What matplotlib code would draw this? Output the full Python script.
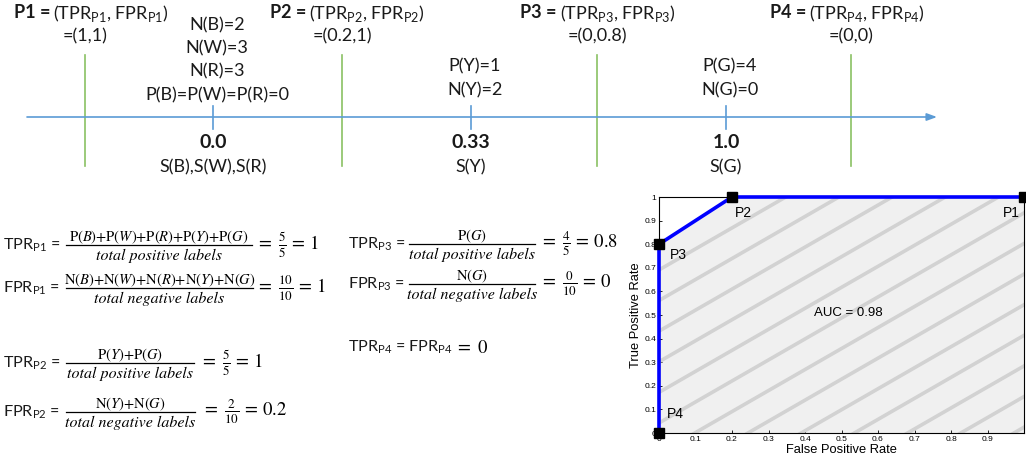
import numpy as np
import matplotlib
matplotlib.use('Agg')
import matplotlib.pyplot as plt
from matplotlib.patches import Polygon

plt.rcParams['font.family'] = 'Lato'
plt.rcParams['mathtext.fontset'] = 'custom'
plt.rcParams['mathtext.rm'] = 'Lato'
plt.rcParams['mathtext.bf'] = 'Lato:bold'

# thresholds / points on the score line
point_names = ['P1', 'P2', 'P3', 'P4']
point_values = ['=(1,1)', '=(0.2,1)', '=(0,0.8)', '=(0,0)']
scores = ['0.0', '0.33', '1.0']
score_groups = ['S(B),S(W),S(R)', 'S(Y)', 'S(G)']
score_counts = [['N(B)=2', 'N(W)=3', 'N(R)=3', 'P(B)=P(W)=P(R)=0'],
                ['P(Y)=1', 'N(Y)=2'],
                ['P(G)=4', 'N(G)=0']]

# the rate formulas
formula_labels = [r'TPR$_{\mathrm{P1}}$ =', r'FPR$_{\mathrm{P1}}$ =', r'TPR$_{\mathrm{P2}}$ =',
                  r'FPR$_{\mathrm{P2}}$ =', r'TPR$_{\mathrm{P3}}$ =', r'FPR$_{\mathrm{P3}}$ =']
formula_nums = ['P($B$)+P($W$)+P($R$)+P($Y$)+P($G$)',
                'N($B$)+N($W$)+N($R$)+N($Y$)+N($G$)',
                'P($Y$)+P($G$)',
                'N($Y$)+N($G$)',
                'P($G$)',
                'N($G$)']
formula_dens = ['total positive labels', 'total negative labels'] * 3
formula_rhs = [r'$=\;\frac{5}{5}\,=\,1$', r'$=\;\frac{10}{10}\,=\,1$', r'$=\;\frac{5}{5}\,=\,1$',
               r'$=\;\frac{2}{10}\,=\,0.2$', r'$=\;\frac{4}{5}\,=\,0.8$', r'$=\;\frac{0}{10}\,=\,0$']

# ROC curve
roc_fpr = [1, 0.2, 0, 0]
roc_tpr = [1, 1, 0.8, 0]
auc = 0.98

# layout (pixels)
threshold_x = [85, 342, 597, 851]
header_split = [50, 306, 557, 806]
score_x = [213, 471, 726]
block_bottom = [95, 90, 90]
formula_pos = [(3, 245, 66, 252, 256), (3, 288, 66, 253, 256),
               (3, 363, 66, 194, 200), (3, 412, 66, 195, 202),
               (348, 244, 409, 535, 540), (348, 284, 409, 535, 540)]

blue = '#5b9bd5'
green = '#8ac163'
txt = '#1a1a1a'

fig = plt.figure(figsize=(10.26, 4.61), dpi=100)
ax = fig.add_axes([0, 0, 1, 1])
ax.set_xlim(0, 1026)
ax.set_ylim(461, 0)
ax.axis('off')

# score axis
ax.annotate('', xy=(937, 117), xytext=(27, 117),
            arrowprops=dict(arrowstyle='-|>,head_length=0.6,head_width=0.22',
                            color=blue, lw=1.2, shrinkA=0, shrinkB=0))
for x in threshold_x:
    ax.plot([x, x], [55, 166], color=green, lw=1.2)
for x in score_x:
    ax.plot([x, x], [106, 129], color=blue, lw=1.2)

for name, val, x, xs in zip(point_names, point_values, threshold_x, header_split):
    ax.text(xs, 13, f'{name} =', ha='right', va='center', fontsize=13, fontweight='bold', color=txt)
    ax.text(xs + 3, 13, rf'(TPR$_{{\mathrm{{{name}}}}}$, FPR$_{{\mathrm{{{name}}}}}$)',
            ha='left', va='center', fontsize=13, color=txt, math_fontfamily='custom')
    ax.text(x, 36, val, ha='center', va='center', fontsize=13, color=txt)

for lines, x, yb in zip(score_counts, score_x, block_bottom):
    n = len(lines)
    for j, s in enumerate(lines):
        ax.text(x + 4, yb - (n - 1 - j) * 23.3, s, ha='center', va='center', fontsize=13, color=txt)

for s, g, x in zip(scores, score_groups, score_x):
    ax.text(x, 142, s, ha='center', va='center', fontsize=14, fontweight='bold', color=txt)
    ax.text(x, 167, g, ha='center', va='center', fontsize=13, color=txt)

# formulas
for lab, num, den, rhs, (xl, yb, x0, x1, xr) in zip(formula_labels, formula_nums, formula_dens,
                                                    formula_rhs, formula_pos):
    ax.text(xl, yb, lab, ha='left', va='center', fontsize=11.6, color=txt, math_fontfamily='custom')
    ax.plot([x0, x1], [yb, yb], color='black', lw=0.9)
    ax.text((x0 + x1) / 2, yb - 8, num, ha='center', va='center', fontsize=10.5,
            fontfamily='STIXGeneral', math_fontfamily='stix')
    ax.text((x0 + x1) / 2, yb + 10.5, den, ha='center', va='center', fontsize=11.5,
            fontfamily='STIXGeneral', fontstyle='italic')
    ax.text(xr, yb, rhs, ha='left', va='center', fontsize=13.5, math_fontfamily='stix')

ax.text(348, 347, r'TPR$_{\mathrm{P4}}$ = FPR$_{\mathrm{P4}}$', ha='left', va='center',
        fontsize=11.6, color=txt, math_fontfamily='custom')
ax.text(455, 347, r'$=\ 0$', ha='left', va='center', fontsize=13.5, math_fontfamily='stix')

# ROC plot
rax = fig.add_axes([659 / 1026, 28 / 461, 365 / 1026, 236 / 461])
rax.set_xlim(0, 1)
rax.set_ylim(0, 1)
area = Polygon(np.column_stack([roc_fpr + [1], roc_tpr + [0]]), facecolor='#f0f0f0',
               edgecolor='none', zorder=1)
rax.add_patch(area)
slope = 0.89
for c in np.arange(0.691 - 14 * 0.1297, 1.0, 0.1297):
    hl, = rax.plot([0, 1], [c, c + slope], color='#d2d2d2', lw=2.6, zorder=2)
    hl.set_clip_path(area)

rax.plot(roc_fpr, roc_tpr, color='#0000ff', lw=2.6, clip_on=False, zorder=4)
rax.plot(roc_fpr, roc_tpr, 's', color='black', ms=7, clip_on=False, zorder=5)

label_offsets = [(-3, -11.5, 'right'), (2, -11.5, 'left'), (8, -8, 'left'), (6, 14, 'left')]
for name, fx, ty, (dx, dy, ha) in zip(point_names, roc_fpr, roc_tpr, label_offsets):
    rax.annotate(name, (fx, ty), xytext=(dx, dy), textcoords='offset points', ha=ha, va='center',
                 fontsize=10, fontfamily='Liberation Sans', zorder=6)
rax.text(0.52, 0.51, f'AUC = {auc}', ha='center', va='center', fontsize=9.5,
         fontfamily='Liberation Sans', zorder=6)

ticks = np.round(np.arange(0, 1.01, 0.1), 1)
rax.set_xticks(ticks)
rax.set_xticklabels(['0'] + [f'{t:g}' for t in ticks[1:-1]] + [''])
rax.set_yticks(ticks)
rax.set_yticklabels(['0'] + [f'{t:g}' for t in ticks[1:]])
rax.tick_params(direction='in', length=2.5, width=0.6, labelsize=6, pad=2,
                labelfontfamily='Liberation Sans')
for sp in rax.spines.values():
    sp.set_linewidth(0.8)
rax.set_xlabel('False Positive Rate', fontsize=9.3, fontfamily='Liberation Sans', labelpad=1)
rax.set_ylabel('True Positive Rate', fontsize=9.3, fontfamily='Liberation Sans', labelpad=2)

fig.savefig('out.png', dpi=100)
